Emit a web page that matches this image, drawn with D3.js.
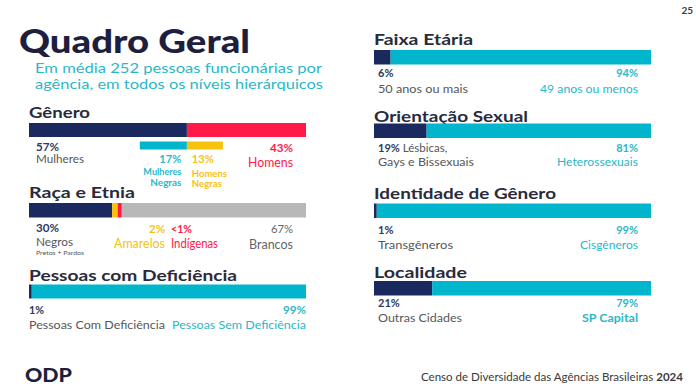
<!DOCTYPE html>
<html><head><meta charset="utf-8">
<script src="https://cdn.jsdelivr.net/npm/d3@7"></script>
<style>
html,body{margin:0;padding:0;background:#fff;}
svg{display:block;font-family:Lato, "Open Sans", sans-serif;}
</style></head>
<body>
<svg id="c" width="696" height="389"></svg>
<script>
// ---- data ----
const title = "Quadro Geral";
const subtitleLines = ["Em média 252 pessoas funcionárias por", "agência, em todos os níveis hierárquicos"];
const generoCategories = ["Mulheres", "Homens"];
const generoValues = [57, 43];
const generoNegrasCategories = ["Mulheres Negras", "Homens Negras"];
const generoNegrasValues = [17, 13];
const racaCategories = ["Negros", "Amarelos", "Indígenas", "Brancos"];
const racaValues = [30, 2, 1.5, 66.5];
const racaLabels = ["30%", "2%", "<1%", "67%"];
const deficienciaCategories = ["Pessoas Com Deficiência", "Pessoas Sem Deficiência"];
const deficienciaValues = [1, 99];
const faixaCategories = ["50 anos ou mais", "49 anos ou menos"];
const faixaValues = [6, 94];
const orientacaoCategories = ["Lésbicas, Gays e Bissexuais", "Heterossexuais"];
const orientacaoValues = [19, 81];
const identidadeCategories = ["Transgêneros", "Cisgêneros"];
const identidadeValues = [1, 99];
const localidadeCategories = ["Outras Cidades", "SP Capital"];
const localidadeValues = [21, 79];

// ---- style ----
const NAVY = "#1b2a5e", TEAL = "#00b5cc", RED = "#ff1a47", YEL = "#f7c20d", GRAY = "#b8b8b8";
const HEAD = "#2a2b3a", LBL = "#575757", PCT = "#2c3a5c", TEALT = "#2bb7c6";
const PS = 11; // percent label size

const svg = d3.select("#c");
const xL = d3.scaleLinear().domain([0, 100]).range([29, 306]);
const xR = d3.scaleLinear().domain([0, 100]).range([374, 651]);

function bar(x, y, h, values, colors, start = 0) {
  const ends = d3.cumsum(values);
  svg.append("g").selectAll("rect").data(values).join("rect")
    .attr("x", (d, i) => x(start + ends[i] - d))
    .attr("y", y).attr("height", h)
    .attr("width", d => x(d) - x(0))
    .attr("fill", (d, i) => colors[i]);
}
function txt(x, y, s, size, color, weight = 400, anchor = "start") {
  return svg.append("text").attr("x", x).attr("y", y).text(s)
    .attr("font-size", size).attr("fill", color).attr("font-weight", weight)
    .attr("text-anchor", anchor);
}
function fit(sel, w) {
  return sel.attr("textLength", w).attr("lengthAdjust", "spacingAndGlyphs");
}
function multi(x, anchor, lines) {
  const t = svg.append("text").attr("text-anchor", anchor);
  lines.forEach(l => {
    const s = t.append("tspan").attr("x", x).attr("y", l.y).text(l.s)
      .attr("font-size", l.size).attr("fill", l.color).attr("font-weight", l.weight || 400);
    if (l.w) fit(s, l.w);
  });
  return t;
}
const pct = v => v + "%";

// Title
fit(txt(19, 53, title, 32, "#1e1f3f", 900), 231);
const subW = [287, 288];
multi(35, "start", subtitleLines.map((l, i) => ({ s: l, y: 73.2 + i * 16, size: 13.5, color: TEALT, w: subW[i] })));
txt(693, 14, "25", 10, "#2d3e50", 700, "end");

// Gênero
fit(txt(29, 118, "Gênero", 16, HEAD, 700), 61);
bar(xL, 123, 14, generoValues, [NAVY, RED]);
bar(xL, 141.5, 8, generoNegrasValues, [TEAL, YEL], generoValues[0] - generoNegrasValues[0]);
multi(36, "start", [
  { s: pct(generoValues[0]), y: 151, size: PS, color: PCT, weight: 700, w: 23 },
  { s: generoCategories[0], y: 163, size: 11.5, color: LBL, w: 48 }]);
multi(293, "end", [
  { s: pct(generoValues[1]), y: 152, size: PS, color: RED, weight: 700, w: 23 },
  { s: generoCategories[1], y: 167, size: 12.5, color: RED, w: 45 }]);
const negX = xL(generoValues[0]);
const mn = generoNegrasCategories[0].split(" "), hn = generoNegrasCategories[1].split(" ");
multi(negX - 5.5, "end", [
  { s: pct(generoNegrasValues[0]), y: 163, size: PS, color: TEALT, weight: 700, w: 22 },
  { s: mn[0], y: 175, size: 8.5, color: TEALT, weight: 700, w: 38 },
  { s: mn[1], y: 186, size: 8.5, color: TEALT, weight: 700, w: 31 }]);
multi(negX + 5, "start", [
  { s: pct(generoNegrasValues[1]), y: 163, size: PS, color: YEL, weight: 700, w: 22 },
  { s: hn[0], y: 176.5, size: 8.5, color: YEL, weight: 700, w: 35 },
  { s: hn[1], y: 187, size: 8.5, color: YEL, weight: 700, w: 30 }]);

// Raça e Etnia
fit(txt(29, 197.5, "Raça e Etnia", 16, HEAD, 700), 106);
bar(xL, 203, 14.5, racaValues, [NAVY, YEL, RED, GRAY]);
multi(36, "start", [
  { s: racaLabels[0], y: 232, size: PS, color: PCT, weight: 700, w: 23 },
  { s: racaCategories[0], y: 245.5, size: 12, color: LBL, w: 37 },
  { s: "Pretos + Pardos", y: 254.5, size: 6.5, color: LBL, w: 48 }]);
multi(165, "end", [
  { s: racaLabels[1], y: 233, size: PS, color: YEL, weight: 700, w: 16 },
  { s: racaCategories[1], y: 247.5, size: 12.5, color: YEL, w: 51 }]);
multi(171, "start", [
  { s: racaLabels[2], y: 233, size: PS, color: RED, weight: 700, w: 21 },
  { s: racaCategories[2], y: 247.5, size: 12.5, color: RED, w: 47 }]);
multi(293, "end", [
  { s: racaLabels[3], y: 233, size: PS, color: "#666", w: 22 },
  { s: racaCategories[3], y: 248.5, size: 12.5, color: "#666", w: 44 }]);

// Pessoas com Deficiência
fit(txt(29, 280.5, "Pessoas com Deficiência", 16, HEAD, 700), 208);
bar(xL, 284.5, 14, deficienciaValues, [NAVY, TEAL]);
multi(29, "start", [
  { s: pct(deficienciaValues[0]), y: 314, size: PS, color: PCT, weight: 700, w: 15 },
  { s: deficienciaCategories[0], y: 329, size: 12, color: LBL, w: 136 }]);
multi(306, "end", [
  { s: pct(deficienciaValues[1]), y: 314, size: PS, color: TEALT, weight: 700, w: 23 },
  { s: deficienciaCategories[1], y: 329, size: 12, color: TEALT, w: 134 }]);

// Right column
function rightBlock(head, headW, headY, barY, values, cats, catW, labY1, labY2, opts = {}) {
  fit(txt(374, headY, head, 16, HEAD, 700), headW);
  bar(xR, barY, 14.5, values, [NAVY, TEAL]);
  if (opts.inline) {
    const t = svg.append("text").attr("font-size", 11.5).attr("fill", LBL);
    t.append("tspan").attr("x", 378).attr("y", labY1).text(pct(values[0])).attr("font-weight", 700).attr("fill", PCT).attr("font-size", PS);
    t.append("tspan").text(" " + opts.inline[0]);
    fit(t.append("tspan").attr("x", 378).attr("y", labY2).text(opts.inline[1]).attr("font-size", 12), catW[0]);
  } else {
    multi(378, "start", [
      { s: pct(values[0]), y: labY1, size: PS, color: PCT, weight: 700 },
      { s: cats[0], y: labY2, size: 12, color: LBL, w: catW[0] }]);
  }
  multi(638, "end", [
    { s: pct(values[1]), y: labY1, size: PS, color: TEALT, weight: 700 },
    { s: cats[1], y: labY2, size: 12, color: TEALT, weight: opts.boldRight ? 700 : 400, w: catW[1] }]);
}
rightBlock("Faixa Etária", 99, 44.5, 50, faixaValues, faixaCategories, [90, 98], 77, 93);
rightBlock("Orientação Sexual", 154, 121.5, 123.5, orientacaoValues, orientacaoCategories, [96, 81], 151.5, 165.5,
  { inline: ["Lésbicas,", "Gays e Bissexuais"] });
rightBlock("Identidade de Gênero", 182, 198.5, 203.5, identidadeValues, identidadeCategories, [75, 58], 233.5, 249);
rightBlock("Localidade", 93, 277.5, 281, localidadeValues, localidadeCategories, [84, 56], 307, 321.5, { boldRight: true });

// Footer
fit(txt(25, 382, "ODP", 19.5, "#1e1f3f", 900), 47);
const f = txt(683, 381, "", 11, "#3a3a3a", 400, "end");
f.append("tspan").text("Censo de Diversidade das Agências Brasileiras ");
f.append("tspan").text("2024").attr("font-weight", 700);
fit(f, 262);
</script>
</body></html>
